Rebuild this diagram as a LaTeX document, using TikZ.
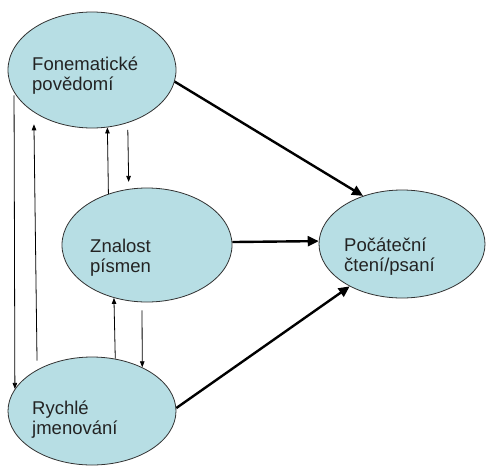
\documentclass[tikz,border=0pt]{standalone}
\usepackage{fontspec}
\setmainfont{Liberation Sans}
\usetikzlibrary{shapes.geometric,arrows.meta}
\definecolor{ellfill}{RGB}{183,222,228}
\definecolor{ellline}{RGB}{50,50,50}
\definecolor{txt}{RGB}{35,35,35}
\tikzset{
  oval/.style={ellipse, draw=ellline, line width=0.8pt, fill=ellfill, inner sep=0pt},
  lbl/.style={anchor=base west, align=left, inner sep=0pt, text=txt,
    font={\fontsize{18.5}{20}\selectfont}},
  thick arrow/.style={line width=2.4pt, -{Triangle[length=11pt,width=10pt]}},
  thin arrow/.style={line width=0.8pt, -{Triangle[length=6pt,width=4.5pt]}},
}
\begin{document}
\begin{tikzpicture}[x=1pt,y=-1pt]
\fill[white] (0,0) rectangle (486,466);
\useasboundingbox (0,0) rectangle (486,466);
\node[oval, minimum width=168pt, minimum height=116pt] (fon) at (92,70) {};
\node[oval, minimum width=170pt, minimum height=114pt] (znal) at (147,245) {};
\node[oval, minimum width=166pt, minimum height=108pt] (poc) at (402,244) {};
\node[oval, minimum width=168pt, minimum height=108pt] (rych) at (92,411) {};

% base anchor of a two-line node is the baseline of its last line
\node[lbl] (tfon) at (32,90) {Fonematické\\povědomí};
\node[lbl] (tznal) at (90,272) {Znalost\\písmen};
\node[lbl] (tpoc) at (344,271) {Počáteční\\čtení/psaní};
\node[lbl] (trych) at (32,434) {Rychlé\\jmenování};

% thick arrows
\draw[thick arrow] (fon.-8.2) -- (poc.129.5);
\draw[thick arrow] (znal.2) -- (poc.178.6);
\draw[thick arrow] (rych.2) -- (poc.219.9);

% thin arrows
\draw[thin arrow, shorten <=3pt] (fon.196.8) -- (rych.164.3);
\draw[thin arrow, shorten <=9pt, shorten >=12pt] (rych.143.2) -- (fon.216.8);
\draw[thin arrow] (znal.127.6) -- (fon.285.7);
\draw[thin arrow, shorten <=7pt, shorten >=7pt] (fon.304.5) -- (znal.108.9);
\draw[thin arrow] (rych.66.1) -- (znal.238.8);
\draw[thin arrow, shorten <=8pt] (znal.265) -- (rych.41);
\end{tikzpicture}
\end{document}
